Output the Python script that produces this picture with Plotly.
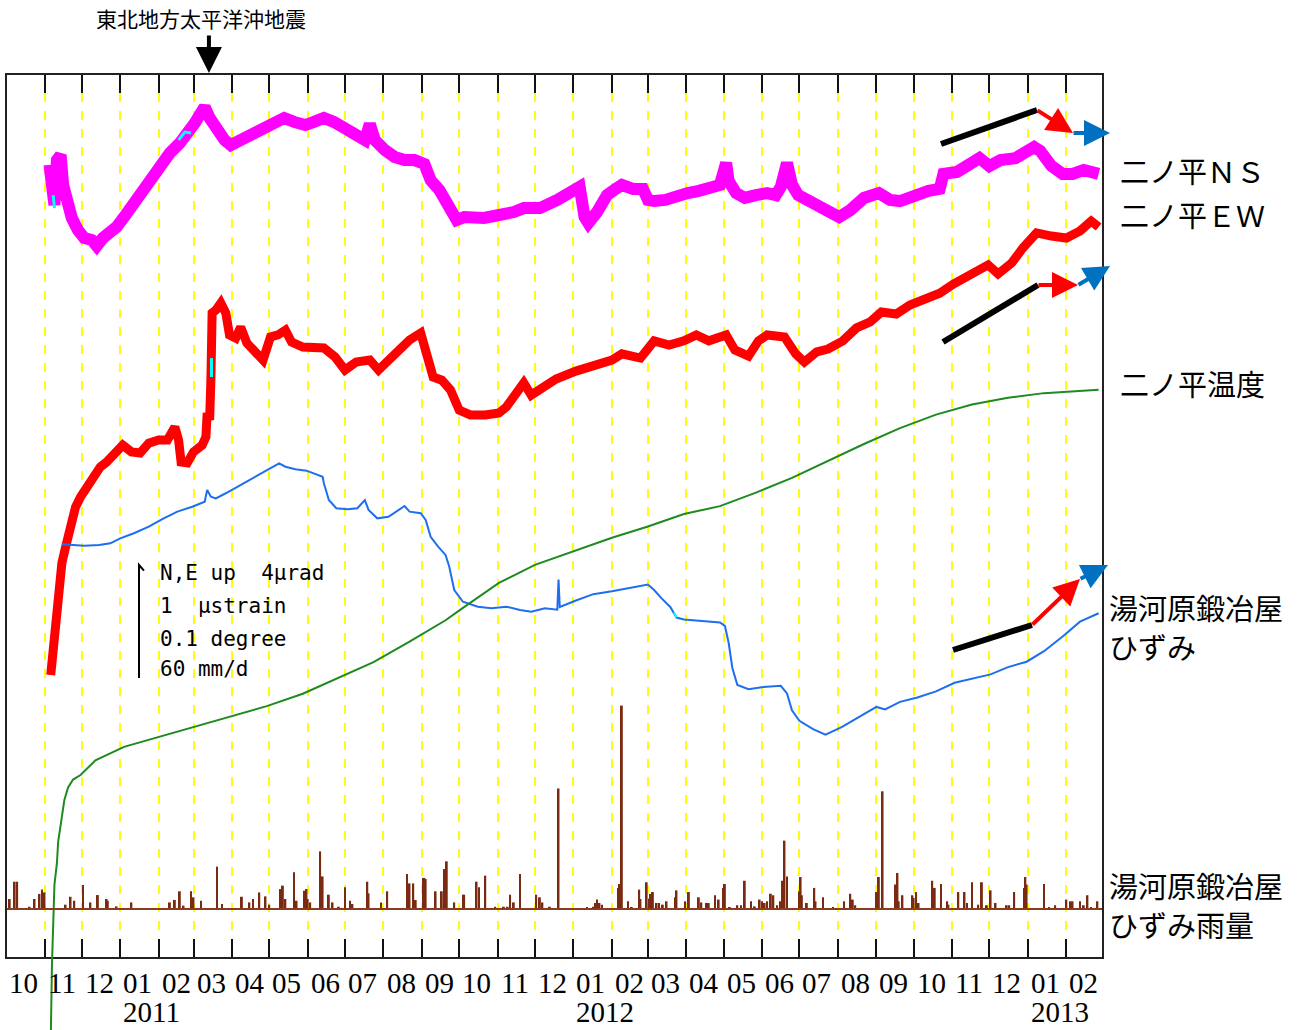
import plotly.graph_objects as go
import pandas as pd

# ---------------- observations ----------------
# 二ノ平 tilt, NS component (μrad, arbitrary offset)
ns_dates = ["2010-11-05", "2010-11-07", "2010-11-09", "2010-11-11", "2010-11-14", "2010-11-16", "2010-11-19",
            "2010-11-23", "2010-11-28", "2010-12-03", "2010-12-09", "2010-12-13", "2010-12-18", "2010-12-24",
            "2010-12-29", "2011-01-04", "2011-01-10", "2011-01-16", "2011-01-24", "2011-02-02", "2011-02-10",
            "2011-02-18", "2011-02-24", "2011-03-02", "2011-03-06", "2011-03-10", "2011-03-14", "2011-03-18",
            "2011-03-22", "2011-03-26", "2011-03-31", "2011-04-05", "2011-04-11", "2011-04-19", "2011-04-27",
            "2011-05-05", "2011-05-13", "2011-05-21", "2011-05-30", "2011-06-06", "2011-06-14", "2011-06-22",
            "2011-06-30", "2011-07-09", "2011-07-17", "2011-07-21", "2011-07-25", "2011-08-02", "2011-08-10",
            "2011-08-18", "2011-08-26", "2011-09-03", "2011-09-08", "2011-09-15", "2011-09-23", "2011-09-29",
            "2011-10-05", "2011-10-13", "2011-10-21", "2011-10-29", "2011-11-06", "2011-11-14", "2011-11-22",
            "2011-12-05", "2011-12-19", "2011-12-31", "2012-01-06", "2012-01-10", "2012-01-13", "2012-01-20",
            "2012-01-28", "2012-02-04", "2012-02-09", "2012-02-18", "2012-02-26", "2012-03-01", "2012-03-06",
            "2012-03-15", "2012-03-24", "2012-04-02", "2012-04-11", "2012-04-19", "2012-04-28", "2012-05-03",
            "2012-05-05", "2012-05-11", "2012-05-18", "2012-05-27", "2012-06-05", "2012-06-12", "2012-06-16",
            "2012-06-21", "2012-06-25", "2012-06-30", "2012-07-12", "2012-07-24", "2012-08-02", "2012-08-11",
            "2012-08-22", "2012-09-03", "2012-09-12", "2012-09-20", "2012-10-02", "2012-10-13", "2012-10-22",
            "2012-10-25", "2012-11-05", "2012-11-14", "2012-11-23", "2012-12-01", "2012-12-10", "2012-12-22",
            "2012-12-30", "2013-01-06", "2013-01-11", "2013-01-20", "2013-01-29", "2013-02-06", "2013-02-15",
            "2013-02-27"]
ns_tilt = [28.04, 26.97, 26.62, 28.21, 28.39, 27.33, 26.62, 26.16, 25.73, 25.45, 25.38, 25.17, 25.45, 25.63,
           25.84, 26.19, 26.55, 27.04, 27.50, 27.96, 28.46, 28.81, 29.10, 29.52, 29.81, 30.09, 29.70, 29.38,
           29.10, 28.92, 28.74, 28.85, 28.99, 29.17, 29.35, 29.52, 29.70, 29.56, 29.45, 29.56, 29.70, 29.56,
           29.35, 29.20, 28.92, 29.49, 28.92, 28.57, 28.32, 28.21, 28.21, 28.07, 27.50, 27.15, 26.62, 26.09,
           26.19, 26.16, 26.16, 26.23, 26.27, 26.37, 26.51, 26.51, 26.80, 27.04, 27.26, 26.19, 25.98, 26.37,
           26.97, 27.19, 27.33, 27.19, 27.19, 26.80, 26.76, 26.80, 26.87, 27.04, 27.12, 27.22, 27.33, 28.11,
           27.47, 27.04, 26.87, 26.97, 27.04, 26.97, 27.26, 28.11, 27.33, 26.97, 26.65, 26.37, 26.19, 26.44,
           26.87, 27.04, 26.80, 26.76, 26.97, 27.12, 27.19, 27.72, 27.79, 28.07, 28.28, 28.00, 28.21, 28.28,
           28.53, 28.67, 28.53, 28.00, 27.72, 27.72, 27.86, 27.72]

# 二ノ平 tilt, EW component (μrad, arbitrary offset)
ew_dates = ["2010-11-06", "2010-11-07", "2010-11-10", "2010-11-12", "2010-11-15", "2010-11-18", "2010-11-21",
            "2010-11-23", "2010-11-26", "2010-11-30", "2010-12-05", "2010-12-11", "2010-12-16", "2010-12-21",
            "2010-12-27", "2011-01-03", "2011-01-10", "2011-01-17", "2011-01-24", "2011-02-01", "2011-02-08",
            "2011-02-14", "2011-02-17", "2011-02-19", "2011-02-24", "2011-03-01", "2011-03-08", "2011-03-11",
            "2011-03-12", "2011-03-14", "2011-03-15", "2011-03-16", "2011-03-19", "2011-03-23", "2011-03-27",
            "2011-03-30", "2011-04-04", "2011-04-08", "2011-04-13", "2011-04-19", "2011-04-26", "2011-05-02",
            "2011-05-08", "2011-05-14", "2011-05-19", "2011-05-28", "2011-06-05", "2011-06-14", "2011-06-23",
            "2011-07-01", "2011-07-10", "2011-07-21", "2011-07-28", "2011-08-05", "2011-08-13", "2011-08-22",
            "2011-08-31", "2011-09-04", "2011-09-10", "2011-09-17", "2011-09-24", "2011-10-01", "2011-10-10",
            "2011-10-22", "2011-11-02", "2011-11-08", "2011-11-15", "2011-11-22", "2011-11-28", "2011-12-07",
            "2011-12-18", "2012-01-03", "2012-01-17", "2012-02-01", "2012-02-09", "2012-02-24", "2012-03-06",
            "2012-03-18", "2012-03-30", "2012-04-09", "2012-04-19", "2012-05-03", "2012-05-10", "2012-05-21",
            "2012-05-29", "2012-06-05", "2012-06-19", "2012-06-28", "2012-07-05", "2012-07-15", "2012-07-24",
            "2012-08-05", "2012-08-16", "2012-08-27", "2012-09-05", "2012-09-17", "2012-09-28", "2012-10-10",
            "2012-10-22", "2012-11-02", "2012-11-17", "2012-11-30", "2012-12-08", "2012-12-19", "2012-12-28",
            "2013-01-08", "2013-01-20", "2013-02-01", "2013-02-12", "2013-02-21", "2013-02-27"]
ew_tilt = [9.98, 10.51, 12.18, 13.10, 13.95, 14.51, 15.01, 15.47, 15.93, 16.28, 16.64, 16.99, 17.35, 17.52,
           17.77, 18.12, 17.88, 17.84, 18.19, 18.30, 18.30, 18.76, 18.30, 17.52, 17.49, 17.88, 18.12, 18.41,
           19.26, 19.01, 20.42, 22.80, 22.90, 23.15, 22.80, 22.02, 21.91, 22.30, 21.73, 21.49, 21.13, 21.95,
           22.02, 22.19, 21.77, 21.59, 21.56, 21.56, 21.24, 20.78, 21.06, 21.13, 20.78, 21.13, 21.42, 21.84,
           22.09, 21.49, 20.53, 20.42, 20.07, 19.36, 19.19, 19.19, 19.26, 19.47, 19.89, 20.32, 19.89, 20.18,
           20.46, 20.74, 20.92, 21.13, 21.35, 21.20, 21.81, 21.66, 21.81, 22.02, 21.81, 22.02, 21.49, 21.27,
           21.81, 22.02, 21.95, 21.35, 21.06, 21.42, 21.52, 21.81, 22.27, 22.48, 22.83, 22.76, 23.08, 23.29,
           23.50, 23.82, 24.18, 24.50, 24.18, 24.57, 25.10, 25.63, 25.52, 25.45, 25.70, 26.05, 25.84]

# 湯河原鍛冶屋 strain (μstrain, arbitrary offset)
strain_dates = ["2010-11-15", "2010-11-22", "2010-12-03", "2010-12-15", "2010-12-24", "2011-01-01", "2011-01-12",
                "2011-01-24", "2011-02-05", "2011-02-16", "2011-02-28", "2011-03-10", "2011-03-12", "2011-03-15",
                "2011-03-19", "2011-03-27", "2011-04-08", "2011-04-19", "2011-05-02", "2011-05-09", "2011-05-14",
                "2011-05-22", "2011-05-31", "2011-06-05", "2011-06-13", "2011-06-14", "2011-06-18", "2011-06-24",
                "2011-07-03", "2011-07-11", "2011-07-17", "2011-07-20", "2011-07-27", "2011-08-05", "2011-08-13",
                "2011-08-18", "2011-08-22", "2011-08-31", "2011-09-04", "2011-09-08", "2011-09-14", "2011-09-20",
                "2011-09-23", "2011-09-27", "2011-10-04", "2011-10-16", "2011-10-27", "2011-11-08", "2011-11-19",
                "2011-11-28", "2011-12-09", "2011-12-19", "2011-12-20", "2011-12-21", "2012-01-03", "2012-01-17",
                "2012-02-01", "2012-02-15", "2012-03-01", "2012-03-06", "2012-03-12", "2012-03-19", "2012-03-24",
                "2012-03-30", "2012-04-13", "2012-04-28", "2012-05-02", "2012-05-05", "2012-05-08", "2012-05-12",
                "2012-05-21", "2012-06-02", "2012-06-16", "2012-06-21", "2012-06-25", "2012-07-01", "2012-07-12",
                "2012-07-22", "2012-08-04", "2012-08-16", "2012-09-01", "2012-09-08", "2012-09-20", "2012-10-04",
                "2012-10-19", "2012-11-03", "2012-11-17", "2012-12-02", "2012-12-16", "2012-12-31", "2013-01-14",
                "2013-01-29", "2013-02-12", "2013-02-27"]
strain = [3.652, 3.646, 3.640, 3.646, 3.661, 3.705, 3.750, 3.808, 3.882, 3.941, 3.985, 4.029, 4.133, 4.073,
          4.059, 4.104, 4.177, 4.250, 4.325, 4.369, 4.339, 4.316, 4.304, 4.281, 4.250, 4.192, 4.044, 3.971,
          3.962, 3.971, 4.044, 3.956, 3.882, 3.896, 3.956, 3.991, 3.941, 3.927, 3.867, 3.719, 3.631, 3.558,
          3.454, 3.248, 3.144, 3.100, 3.086, 3.100, 3.071, 3.056, 3.086, 3.073, 3.341, 3.098, 3.155, 3.211,
          3.236, 3.266, 3.296, 3.248, 3.174, 3.098, 3.004, 2.987, 2.975, 2.960, 2.930, 2.781, 2.558, 2.408,
          2.370, 2.389, 2.400, 2.333, 2.183, 2.090, 2.016, 1.967, 2.035, 2.109, 2.213, 2.191, 2.258, 2.296,
          2.351, 2.427, 2.464, 2.501, 2.565, 2.613, 2.706, 2.837, 2.968, 3.042]

# 二ノ平 temperature (degree, relative)
temp_dates = ["2010-11-06", "2010-11-07", "2010-11-09", "2010-11-11", "2010-11-12", "2010-11-14", "2010-11-15",
              "2010-11-17", "2010-11-20", "2010-11-24", "2010-11-30", "2010-12-12", "2011-01-04", "2011-02-02",
              "2011-03-03", "2011-03-30", "2011-04-29", "2011-05-28", "2011-06-26", "2011-07-24", "2011-08-22",
              "2011-09-20", "2011-10-04", "2011-11-02", "2011-12-01", "2012-01-03", "2012-02-01", "2012-03-01",
              "2012-03-30", "2012-04-28", "2012-05-27", "2012-06-25", "2012-07-24", "2012-08-22", "2012-09-20",
              "2012-10-19", "2012-11-17", "2012-12-16", "2013-01-14", "2013-02-12", "2013-02-27"]
temp = [-0.075, -0.007, 0.064, 0.083, 0.102, 0.117, 0.128, 0.139, 0.150, 0.157, 0.161, 0.174, 0.186, 0.195,
        0.204, 0.213, 0.222, 0.233, 0.247, 0.261, 0.279, 0.298, 0.309, 0.331, 0.347, 0.360, 0.371, 0.381,
        0.392, 0.399, 0.411, 0.424, 0.439, 0.454, 0.468, 0.480, 0.489, 0.495, 0.499, 0.501, 0.502]

# 湯河原鍛冶屋 daily rainfall (mm/d)
rain_dates = ["2010-10-04", "2010-10-08", "2010-10-10", "2010-10-20", "2010-10-24", "2010-10-28", "2010-10-30",
              "2010-11-01", "2010-11-18", "2010-11-22", "2010-11-25", "2010-12-02", "2010-12-08", "2010-12-14",
              "2010-12-21", "2010-12-22", "2010-12-29", "2011-01-10", "2011-02-10", "2011-02-14", "2011-02-18",
              "2011-02-21", "2011-02-27", "2011-03-01", "2011-03-07", "2011-03-20", "2011-03-24", "2011-04-09",
              "2011-04-15", "2011-04-18", "2011-04-23", "2011-04-28", "2011-05-01", "2011-05-10", "2011-05-12",
              "2011-05-14", "2011-05-21", "2011-05-23", "2011-05-29", "2011-05-31", "2011-06-01", "2011-06-03",
              "2011-06-11", "2011-06-13", "2011-06-18", "2011-06-21", "2011-06-26", "2011-07-01", "2011-07-05",
              "2011-07-07", "2011-07-19", "2011-07-20", "2011-07-30", "2011-08-04", "2011-08-20", "2011-08-22",
              "2011-08-25", "2011-08-27", "2011-09-02", "2011-09-03", "2011-09-04", "2011-09-12", "2011-09-17",
              "2011-09-19", "2011-09-21", "2011-09-27", "2011-10-04", "2011-10-05", "2011-10-15", "2011-10-17",
              "2011-10-22", "2011-10-30", "2011-11-06", "2011-11-09", "2011-11-11", "2011-11-14", "2011-11-19",
              "2011-12-02", "2011-12-05", "2011-12-07", "2011-12-13", "2011-12-20", "2012-01-12", "2012-01-17",
              "2012-01-19", "2012-01-20", "2012-01-22", "2012-01-24", "2012-02-06", "2012-02-07", "2012-02-09",
              "2012-02-14", "2012-02-17", "2012-02-23", "2012-02-24", "2012-02-29", "2012-03-02", "2012-03-03",
              "2012-03-05", "2012-03-08", "2012-03-10", "2012-03-13", "2012-03-16", "2012-03-23", "2012-03-24",
              "2012-03-31", "2012-04-03", "2012-04-11", "2012-04-13", "2012-04-17", "2012-04-19", "2012-04-24",
              "2012-04-27", "2012-05-01", "2012-05-02", "2012-05-06", "2012-05-12", "2012-05-15", "2012-05-18",
              "2012-05-23", "2012-05-26", "2012-05-30", "2012-06-01", "2012-06-03", "2012-06-05", "2012-06-08",
              "2012-06-10", "2012-06-13", "2012-06-16", "2012-06-17", "2012-06-19", "2012-06-21", "2012-07-01",
              "2012-07-02", "2012-07-03", "2012-07-07", "2012-07-13", "2012-07-14", "2012-07-20", "2012-07-28",
              "2012-08-06", "2012-08-11", "2012-08-13", "2012-08-15", "2012-09-01", "2012-09-03", "2012-09-06",
              "2012-09-16", "2012-09-18", "2012-09-19", "2012-09-22", "2012-09-30", "2012-10-01", "2012-10-03",
              "2012-10-05", "2012-10-16", "2012-10-18", "2012-10-23", "2012-10-28", "2012-10-29", "2012-11-06",
              "2012-11-11", "2012-11-13", "2012-11-17", "2012-11-22", "2012-11-25", "2012-11-29", "2012-12-02",
              "2012-12-06", "2012-12-15", "2012-12-17", "2012-12-21", "2012-12-29", "2012-12-30", "2012-12-31",
              "2013-01-14", "2013-01-18", "2013-01-23", "2013-02-01", "2013-02-04", "2013-02-06", "2013-02-12",
              "2013-02-15", "2013-02-18", "2013-02-21", "2013-02-26"]
rain_mm = [5.3, 14.5, 14.5, 1.2, 5.3, 8.0, 10.3, 8.8, 2.3, 6.5, 4.4, 12.7, 3.5, 7.4,
           5.3, 4.4, 1.4, 3.5, 3.5, 4.8, 9.4, 1.8, 9.4, 6.2, 4.4, 22.5, 2.7, 6.5,
           3.5, 5.3, 8.8, 6.7, 2.3, 10.6, 12.4, 5.3, 19.5, 4.4, 9.7, 10.6, 5.3, 3.5,
           30.6, 17.3, 7.6, 3.5, 1.2, 11.5, 4.4, 2.7, 14.5, 8.3, 3.5, 9.4, 18.6, 13.6,
           13.6, 4.8, 16.5, 16.5, 15.9, 9.4, 9.4, 21.2, 25.3, 3.5, 7.6, 7.6, 14.5, 11.5,
           17.7, 1.2, 1.2, 1.2, 7.6, 3.5, 18.6, 7.6, 6.2, 3.5, 1.2, 64.0, 1.0, 1.2,
           3.2, 5.0, 3.2, 2.3, 11.2, 13.3, 108.0, 4.1, 0.9, 10.3, 5.3, 14.2, 5.5, 8.0,
           9.0, 3.2, 3.2, 2.3, 4.1, 6.2, 9.9, 4.1, 9.0, 6.2, 3.5, 3.2, 3.2, 7.3,
           5.0, 11.2, 13.3, 0.9, 2.0, 2.0, 15.0, 4.1, 1.4, 5.0, 4.1, 3.2, 4.1, 8.1,
           7.3, 2.0, 4.1, 15.0, 36.3, 17.3, 9.4, 17.0, 7.3, 3.2, 11.2, 4.1, 6.2, 0.9,
           4.1, 8.1, 5.0, 2.0, 9.0, 17.0, 62.5, 13.0, 19.1, 4.1, 7.3, 7.3, 5.9, 9.0,
           3.2, 15.0, 11.2, 13.3, 4.1, 2.3, 9.0, 9.0, 3.2, 14.2, 2.3, 14.2, 2.0, 9.9,
           3.2, 2.0, 2.0, 9.0, 11.2, 17.0, 13.0, 13.3, 0.9, 2.0, 5.0, 4.1, 4.1, 4.1,
           2.0, 7.3, 0.9, 4.1]

# short stretches of gap-filled data, drawn in cyan
ns_fill_dates = [["2010-11-08", "2010-11-09"], ["2011-02-17", "2011-02-22", "2011-02-27"]]
ns_fill_tilt = [[26.97, 26.51], [28.92, 29.20, 29.17]]
ew_fill_dates = [["2011-03-15 12:00", "2011-03-15 12:00"]]
ew_fill_tilt = [[20.53, 21.20]]
strain_fill_dates = [["2012-03-22", "2012-03-24"]]
strain_fill = [[3.05, 3.004]]

for a, b in [(ns_dates, ns_tilt), (ew_dates, ew_tilt), (strain_dates, strain),
             (temp_dates, temp), (rain_dates, rain_mm)]:
    assert len(a) == len(b)

# axis labels
month_labels = ["10", "11", "12",
                "01", "02", "03", "04", "05", "06", "07", "08", "09", "10", "11", "12",
                "01", "02", "03", "04", "05", "06", "07", "08", "09", "10", "11", "12",
                "01", "02"]
year_labels = ["2011", "2012", "2013"]

# scale-bar lengths: one bar stands for each of these
SCALE_TILT = 4.0      # μrad
SCALE_STRAIN = 1.0    # μstrain
SCALE_TEMP = 0.1      # degree
SCALE_RAIN = 60.0     # mm/d
scale_lines = ["N,E up  4μrad", "1  μstrain", "0.1 degree", "60 mm/d"]

# ---------------- geometry ----------------
W, H = 1301, 1030
ML, MR, MT, MB = 7, 199, 75, 0
PW, PH = W - ML - MR, H - MT - MB
FRAME_BOTTOM = 957                      # pixel row of the lower frame edge
DOM_B = (H - FRAME_BOTTOM) / PH         # main panel domain bottom
PX_PER_BAR = 113.0                      # length of one scale bar in pixels
FRAME_H = FRAME_BOTTOM - MT
RAIN_BASE_PX = 48                       # rain zero line above frame bottom

tilt_range = [0, FRAME_H / (PX_PER_BAR / SCALE_TILT)]
strain_range = [0, FRAME_H / (PX_PER_BAR / SCALE_STRAIN)]
temp_k = PX_PER_BAR / SCALE_TEMP
temp_range = [-(H - FRAME_BOTTOM) / temp_k, FRAME_H / temp_k]
rain_k = PX_PER_BAR / SCALE_RAIN
rain_range = [-RAIN_BASE_PX / rain_k, (FRAME_H - RAIN_BASE_PX) / rain_k]

X0, X1 = "2010-10-01 19:00", "2013-03-01 17:00"


def px(x):
    return (x - ML) / PW


def py(y):
    return (H - y) / PH


MAGENTA = "#ff00ff"
RED = "#ff0000"
BLUE = "#1e6ef0"
GREEN = "#1f8a1f"
RAIN_C = "#7a2a10"
CYAN = "#00ffff"
ARROW_BLUE = "#0070c0"
JP = "Noto Sans CJK JP"
AXIS_FONT = dict(family="Liberation Serif, DejaVu Serif", size=29, color="black")

fig = go.Figure()

fig.add_trace(go.Bar(x=rain_dates, y=rain_mm, yaxis="y4", width=1.5 * 86400000,
                     marker=dict(color=RAIN_C, line=dict(width=0)), name="雨量"))
fig.add_trace(go.Scatter(x=ew_dates, y=ew_tilt, mode="lines", name="二ノ平EW",
                         line=dict(color=RED, width=9)))
fig.add_trace(go.Scatter(x=ns_dates, y=ns_tilt, mode="lines", name="二ノ平NS",
                         line=dict(color=MAGENTA, width=12)))
for d, v in zip(ns_fill_dates + ew_fill_dates, ns_fill_tilt + ew_fill_tilt):
    fig.add_trace(go.Scatter(x=d, y=v, mode="lines", line=dict(color=CYAN, width=3), showlegend=False))
fig.add_trace(go.Scatter(x=strain_dates, y=strain, yaxis="y2", mode="lines", name="ひずみ",
                         line=dict(color=BLUE, width=2)))
for d, v in zip(strain_fill_dates, strain_fill):
    fig.add_trace(go.Scatter(x=d, y=v, yaxis="y2", mode="lines", line=dict(color=CYAN, width=2),
                             showlegend=False))
fig.add_trace(go.Scatter(x=temp_dates, y=temp, xaxis="x2", yaxis="y3", mode="lines", name="二ノ平温度",
                         line=dict(color=GREEN, width=2)))

frame = dict(showline=True, linecolor="#222222", linewidth=2)
fig.update_layout(
    width=W, height=H,
    margin=dict(l=ML, r=MR, t=MT, b=MB, pad=0),
    paper_bgcolor="white", plot_bgcolor="rgba(0,0,0,0)",
    showlegend=False,
    xaxis=dict(type="date", range=[X0, X1], domain=[0, 1], anchor="y",
               tick0="2010-11-01", dtick="M1", ticks="inside", ticklen=18, tickwidth=2,
               tickcolor="#111111", showticklabels=False,
               showgrid=True, gridcolor="#ffff00", gridwidth=2, griddash="9px,9px",
               zeroline=False, mirror="ticks", **frame),
    xaxis2=dict(type="date", range=[X0, X1], domain=[0, 1], anchor="y3", visible=False),
    yaxis=dict(domain=[DOM_B, 1], range=tilt_range, showticklabels=False, ticks="",
               showgrid=False, zeroline=False, mirror=True, **frame),
    yaxis2=dict(overlaying="y", range=strain_range, visible=False),
    yaxis3=dict(domain=[0, 1], anchor="x2", range=temp_range, visible=False),
    yaxis4=dict(overlaying="y", range=rain_range, visible=False),
)

# rain zero line
fig.add_shape(type="line", xref="paper", x0=0, x1=1, yref="y4", y0=0, y1=0,
              line=dict(color="#8a3d1e", width=2))

ann = []
# month and year labels, left-aligned at each month boundary
month_starts = pd.date_range("2010-10-01", periods=len(month_labels), freq="MS") + pd.Timedelta(hours=20)
for d, lab in zip(month_starts, month_labels):
    ann.append(dict(x=d, xref="x", y=py(983), yref="paper", text=lab, showarrow=False,
                    xanchor="left", yanchor="middle", font=AXIS_FONT))
for lab in year_labels:
    ann.append(dict(x=pd.Timestamp(f"{lab}-01-01") + pd.Timedelta(hours=20), xref="x", y=py(1012),
                    yref="paper", text=lab, showarrow=False, xanchor="left", yanchor="middle",
                    font=AXIS_FONT))

# series names on the right (one annotation per text line)
for text, x, y in [("二ノ平ＮＳ", 1118, 170), ("二ノ平ＥＷ", 1118, 214), ("二ノ平温度", 1118, 383),
                   ("湯河原鍛冶屋", 1107, 607), ("ひずみ", 1107, 646),
                   ("湯河原鍛冶屋", 1107, 885), ("ひずみ雨量", 1107, 924)]:
    ann.append(dict(x=px(x), y=py(y), xref="paper", yref="paper", text=text, showarrow=False,
                    xanchor="left", yanchor="middle", align="left",
                    font=dict(family=JP, size=29, color="black")))

# arrows without a label: keep the (empty) text box tiny so the shaft starts at its tail
ARROW_BASE = dict(text="", showarrow=True, standoff=0, startstandoff=0, borderpad=0,
                  font=dict(size=1), arrowhead=2, arrowwidth=4)

# earthquake marker
ann.append(dict(x=px(201), y=py(18), xref="paper", yref="paper", text="東北地方太平洋沖地震",
                showarrow=False, xanchor="center", yanchor="middle",
                font=dict(family=JP, size=21, color="black")))
ann.append(dict(x="2011-03-11", xref="x", xshift=3, y=py(73), yref="paper",
                ax=0, ay=-38, arrowsize=1.3, arrowcolor="black", **ARROW_BASE))

# scale bar legend
SCALE_X = px(139)
scale_base = (FRAME_BOTTOM - 678) / (PX_PER_BAR / SCALE_TILT)
fig.add_shape(type="path", xref="paper", yref="y",
              path=f"M {px(144)},{scale_base + SCALE_TILT - 0.2} L {SCALE_X},{scale_base + SCALE_TILT} "
                   f"L {SCALE_X},{scale_base}",
              line=dict(color="black", width=2))
for text, y in zip(scale_lines, [573, 606, 639, 669]):
    ann.append(dict(x=px(158), y=py(y), xref="paper", yref="paper", text=text, showarrow=False,
                    xanchor="left", yanchor="middle",
                    font=dict(family="DejaVu Sans Mono", size=21, color="black")))

# trend sketches: black = earlier trend, red = recent, blue = latest
trend_lines = [((941, 144), (1037, 110)), ((943, 342), (1038, 285)), ((953, 650), (1032, 625))]
trend_arrows = [((1037, 110), (1073, 133), RED), ((1073, 133), (1110, 133), ARROW_BLUE),
                ((1038, 285), (1078, 285), RED), ((1078, 285), (1110, 266), ARROW_BLUE),
                ((1032, 625), (1080, 579), RED), ((1080, 579), (1108, 565), ARROW_BLUE)]
for (x0, y0), (x1, y1) in trend_lines:
    fig.add_shape(type="line", xref="paper", yref="paper", x0=px(x0), y0=py(y0), x1=px(x1), y1=py(y1),
                  line=dict(color="black", width=6))
for (x0, y0), (x1, y1), c in trend_arrows:
    ann.append(dict(x=px(x1), y=py(y1), xref="paper", yref="paper",
                    ax=x0 - x1, ay=y0 - y1, arrowsize=1.3, arrowcolor=c, **ARROW_BASE))

fig.update_layout(annotations=ann)
fig.write_html("out.html")
